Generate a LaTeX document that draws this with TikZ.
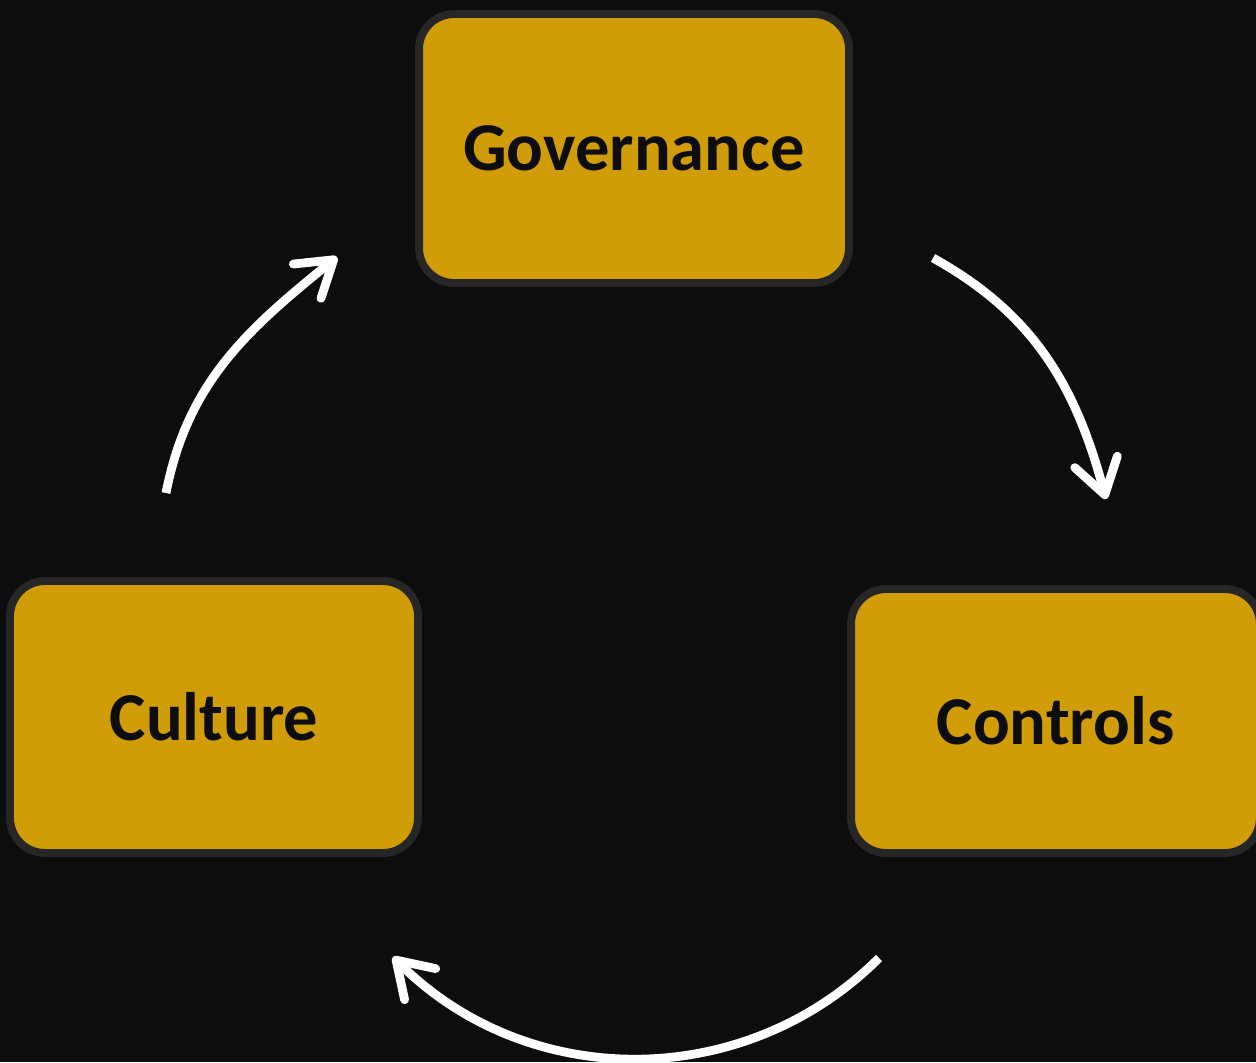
\documentclass[tikz,border=0pt]{standalone}
\usepackage{fontspec}
\setmainfont{Carlito}
\usetikzlibrary{arrows.meta}

\definecolor{bgdark}{HTML}{0D0D0D}
\definecolor{gold}{HTML}{D09C08}
\definecolor{rim}{HTML}{262626}

\begin{document}
\begin{tikzpicture}[
    x=0.02cm, y=0.02cm,
    stage/.style={draw=rim, fill=gold, line width=4.5pt, rectangle, rounded corners=0.7cm, align=center, font=\fontsize{39}{46}\selectfont\bfseries, text=bgdark},
    cycle/.style={-{Straight Barb[length=0.68cm, width=0.88cm, round]}, line width=5pt, draw=white}
]

% background
\fill[bgdark] (0,0) rectangle (1256,-1062);
\useasboundingbox (0,0) rectangle (1256,-1062);
\clip (0,0) rectangle (1256,-1062);

% Governance
\node[stage, minimum width=8.6cm, minimum height=5.38cm] (gov) at (634,-148.5) {Governance};

% Controls
\node[stage, minimum width=8.18cm, minimum height=5.28cm] (ctl) at (1055.5,-721) {Controls};

% Culture
\node[stage, minimum width=8.16cm, minimum height=5.44cm] (cul) at (214,-717) {Culture};

% arrow ends
\coordinate (gov-out) at (933,-258);
\coordinate (ctl-in) at (1106,-499);
\coordinate (ctl-out) at (879,-958);
\coordinate (cul-in) at (393,-957);
\coordinate (cul-out) at (166,-493);
\coordinate (gov-in) at (337,-257);

\draw[cycle] (gov-out) to[out=-29, in=105] (ctl-in);
\draw[cycle] (ctl-out) to[out=225, in=-45] (cul-in);
\draw[cycle] (cul-out) to[out=79, in=219] (gov-in);

\end{tikzpicture}
\end{document}
